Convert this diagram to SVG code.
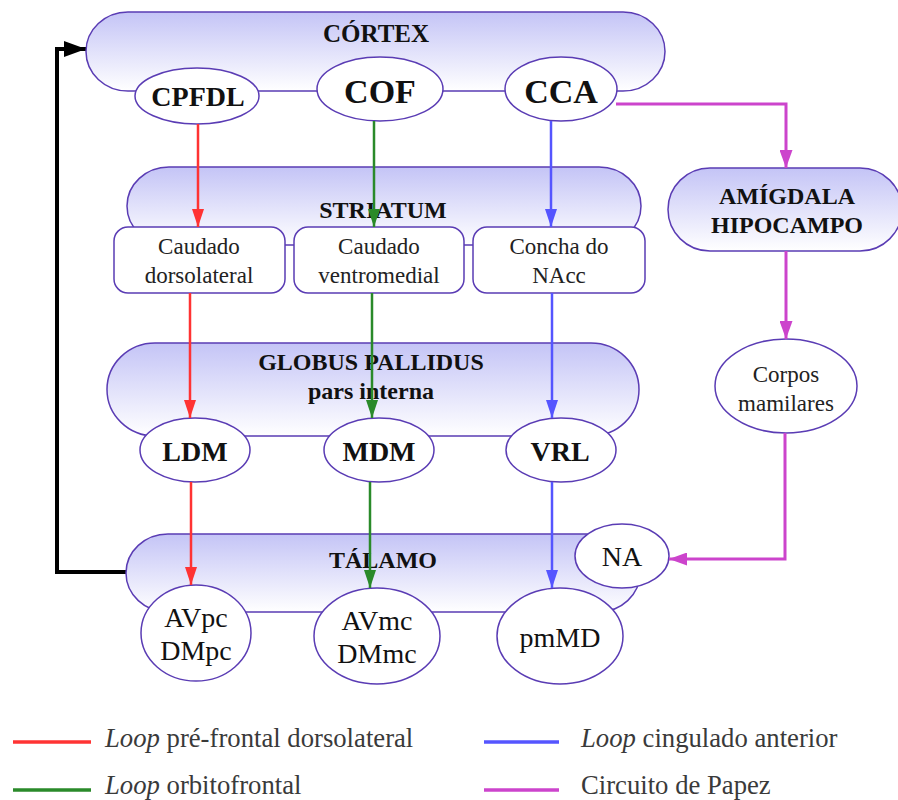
<svg xmlns="http://www.w3.org/2000/svg" width="898" height="800" viewBox="0 0 898 800">
  <defs>
    <linearGradient id="blueFade" x1="0" y1="0" x2="0" y2="1">
      <stop offset="0" stop-color="#c4c4f6"/>
      <stop offset="1" stop-color="#ffffff"/>
    </linearGradient>
    <marker id="arrRed" viewBox="0 0 18 12" refX="18" refY="6" markerWidth="18" markerHeight="12" orient="auto" markerUnits="userSpaceOnUse">
      <path d="M0,0 L18,6 L0,12 z" fill="#ff3333"/>
    </marker>
    <marker id="arrGreen" viewBox="0 0 18 12" refX="18" refY="6" markerWidth="18" markerHeight="12" orient="auto" markerUnits="userSpaceOnUse">
      <path d="M0,0 L18,6 L0,12 z" fill="#2a8a2a"/>
    </marker>
    <marker id="arrBlue" viewBox="0 0 18 12" refX="18" refY="6" markerWidth="18" markerHeight="12" orient="auto" markerUnits="userSpaceOnUse">
      <path d="M0,0 L18,6 L0,12 z" fill="#5555ff"/>
    </marker>
    <marker id="arrPink" viewBox="0 0 18 13" refX="18" refY="6.5" markerWidth="18" markerHeight="13" orient="auto" markerUnits="userSpaceOnUse">
      <path d="M0,0 L18,6.5 L0,13 z" fill="#cc44cc"/>
    </marker>
    <marker id="arrBlack" viewBox="0 0 22 16" refX="22" refY="8" markerWidth="22" markerHeight="16" orient="auto" markerUnits="userSpaceOnUse">
      <path d="M0,0 L22,8 L0,16 z" fill="#000"/>
    </marker>
  </defs>
  <style>
    text { font-family: "Liberation Serif", "Times New Roman", "DejaVu Serif", serif; }
    .region { fill: url(#blueFade); stroke: #5a3cb4; stroke-width: 1.5; }
    .node { fill: #ffffff; stroke: #5a3cb4; stroke-width: 1.5; }
    .title { font-weight: bold; font-size: 24px; fill: #111; text-anchor: middle; }
    .title25 { font-weight: bold; font-size: 25px; fill: #111; text-anchor: middle; }
    .big { font-weight: bold; font-size: 28px; fill: #111; text-anchor: middle; }
    .huge { font-weight: bold; font-size: 34px; fill: #111; text-anchor: middle; }
    .lbl { font-size: 23px; fill: #222; text-anchor: middle; }
    .lbl28 { font-size: 28px; fill: #111; text-anchor: middle; }
    .legend { font-size: 26.7px; fill: #3a3a3a; }
    .red { stroke: #ff3333; stroke-width: 2.5; fill: none; }
    .green { stroke: #2a8a2a; stroke-width: 2.5; fill: none; }
    .blue { stroke: #5555ff; stroke-width: 2.5; fill: none; }
    .pink { stroke: #cc44cc; stroke-width: 3; fill: none; }
  </style>

  <rect width="898" height="800" fill="#ffffff"/>

  <!-- feedback from thalamus back to cortex -->
  <g id="feedback">
    <polyline points="126,572 57,572 57,49 86,49" fill="none" stroke="#000" stroke-width="4" marker-end="url(#arrBlack)"/>
  </g>

  <!-- cortex -->
  <g id="cortex">
    <rect class="region" x="86" y="12" width="579" height="79" rx="42" ry="42"/>
    <text class="title25" x="376" y="42">CÓRTEX</text>
  </g>
  <g id="cpfdl">
    <ellipse class="node" cx="197" cy="96" rx="62" ry="28"/>
    <text class="big" x="198" y="106">CPFDL</text>
  </g>
  <g id="cof">
    <ellipse class="node" cx="380" cy="89" rx="63" ry="32"/>
    <text class="huge" x="380" y="103">COF</text>
  </g>
  <g id="cca">
    <ellipse class="node" cx="561" cy="89" rx="56" ry="32"/>
    <text class="huge" x="561" y="103">CCA</text>
  </g>

  <!-- striatum -->
  <g id="striatum">
    <rect class="region" x="127" y="167" width="514" height="78" rx="42" ry="42"/>
    <text class="title" x="383" y="218">STRIATUM</text>
  </g>
  <g id="caudado-dorsolateral">
    <rect class="node" x="114" y="227" width="171" height="66" rx="14" ry="14"/>
    <text class="lbl" x="199" y="254">Caudado</text>
    <text class="lbl" x="199" y="283">dorsolateral</text>
  </g>
  <g id="caudado-ventromedial">
    <rect class="node" x="294" y="227" width="170" height="66" rx="14" ry="14"/>
    <text class="lbl" x="379" y="254">Caudado</text>
    <text class="lbl" x="379" y="283">ventromedial</text>
  </g>
  <g id="concha-nacc">
    <rect class="node" x="473" y="227" width="172" height="66" rx="14" ry="14"/>
    <text class="lbl" x="559" y="254">Concha do</text>
    <text class="lbl" x="559" y="283">NAcc</text>
  </g>

  <!-- globus pallidus -->
  <g id="globus-pallidus">
    <rect class="region" x="107" y="343" width="532" height="93" rx="48" ry="48"/>
    <text class="title" x="371" y="370">GLOBUS PALLIDUS</text>
    <text class="title" x="371" y="399">pars interna</text>
  </g>
  <g id="ldm">
    <ellipse class="node" cx="195" cy="450" rx="55" ry="32"/>
    <text class="big" x="195" y="461">LDM</text>
  </g>
  <g id="mdm">
    <ellipse class="node" cx="379" cy="450" rx="55" ry="32"/>
    <text class="big" x="379" y="461">MDM</text>
  </g>
  <g id="vrl">
    <ellipse class="node" cx="561" cy="450" rx="55" ry="32"/>
    <text class="big" x="560" y="461">VRL</text>
  </g>

  <!-- thalamus -->
  <g id="talamo">
    <rect class="region" x="126" y="534" width="514" height="78" rx="42" ry="42"/>
    <text class="title" x="383" y="568">TÁLAMO</text>
  </g>
  <g id="avpc">
    <ellipse class="node" cx="196" cy="633" rx="55" ry="48"/>
    <text class="lbl28" x="196" y="627">AVpc</text>
    <text class="lbl28" x="196" y="660">DMpc</text>
  </g>
  <g id="avmc">
    <ellipse class="node" cx="377" cy="636" rx="63" ry="48"/>
    <text class="lbl28" x="377" y="630">AVmc</text>
    <text class="lbl28" x="377" y="663">DMmc</text>
  </g>
  <g id="pmmd">
    <ellipse class="node" cx="560" cy="636" rx="63" ry="48"/>
    <text class="lbl28" x="560" y="647">pmMD</text>
  </g>
  <g id="na">
    <ellipse class="node" cx="622" cy="556" rx="47" ry="32"/>
    <text class="lbl28" x="622" y="566">NA</text>
  </g>

  <!-- Papez side nodes -->
  <g id="amigdala-hipocampo">
    <rect class="region" x="668" y="168" width="234" height="83" rx="42" ry="42"/>
    <text class="title" x="787" y="204">AMÍGDALA</text>
    <text class="title" x="787" y="233">HIPOCAMPO</text>
  </g>
  <g id="corpos-mamilares">
    <ellipse class="node" cx="786" cy="386" rx="71" ry="47"/>
    <text class="lbl" x="786" y="382">Corpos</text>
    <text class="lbl" x="786" y="411">mamilares</text>
  </g>

  <!-- loop connectors -->
  <g id="connectors">
    <line class="red" x1="198" y1="124" x2="198" y2="227" marker-end="url(#arrRed)"/>
    <line class="red" x1="190" y1="293" x2="190" y2="418" marker-end="url(#arrRed)"/>
    <line class="red" x1="191" y1="482" x2="191" y2="585" marker-end="url(#arrRed)"/>

    <line class="green" x1="374" y1="121" x2="374" y2="227" marker-end="url(#arrGreen)"/>
    <line class="green" x1="372" y1="293" x2="372" y2="418" marker-end="url(#arrGreen)"/>
    <line class="green" x1="370" y1="482" x2="370" y2="588" marker-end="url(#arrGreen)"/>

    <line class="blue" x1="551" y1="121" x2="551" y2="227" marker-end="url(#arrBlue)"/>
    <line class="blue" x1="552" y1="293" x2="552" y2="418" marker-end="url(#arrBlue)"/>
    <line class="blue" x1="552" y1="482" x2="552" y2="588" marker-end="url(#arrBlue)"/>

    <polyline class="pink" points="616,104 786,104 786,168" marker-end="url(#arrPink)"/>
    <line class="pink" x1="786" y1="251" x2="786" y2="339" marker-end="url(#arrPink)"/>
    <polyline class="pink" points="785,433 785,559 669,559" marker-end="url(#arrPink)"/>
  </g>

  <!-- legend -->
  <g id="legend">
    <line x1="13" y1="742" x2="91" y2="742" stroke="#ff3333" stroke-width="3.5"/>
    <text class="legend" x="105" y="747"><tspan font-style="italic">Loop</tspan> pré-frontal dorsolateral</text>
    <line x1="484" y1="742" x2="559" y2="742" stroke="#5555ff" stroke-width="3.5"/>
    <text class="legend" x="581" y="747"><tspan font-style="italic">Loop</tspan> cingulado anterior</text>
    <line x1="13" y1="790" x2="91" y2="790" stroke="#2a8a2a" stroke-width="3.5"/>
    <text class="legend" x="105" y="794"><tspan font-style="italic">Loop</tspan> orbitofrontal</text>
    <line x1="484" y1="790" x2="559" y2="790" stroke="#cc44cc" stroke-width="3.5"/>
    <text class="legend" x="581" y="794">Circuito de Papez</text>
  </g>
</svg>
